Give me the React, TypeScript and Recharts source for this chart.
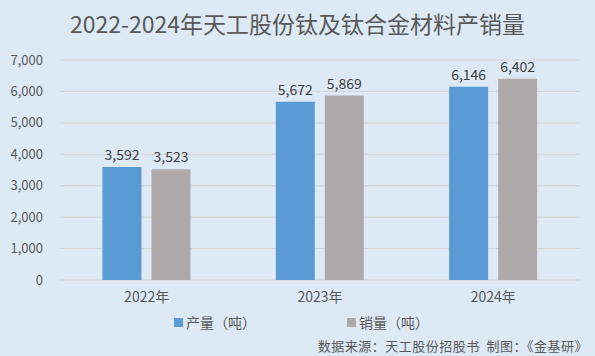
import React from 'react';
import { BarChart, Bar, XAxis, YAxis, CartesianGrid, LabelList } from 'recharts';

const categories = ['2022年', '2023年', '2024年'];
const production = [3592, 5672, 6146];
const sales = [3523, 5869, 6402];
const yTicks = [0, 1000, 2000, 3000, 4000, 5000, 6000, 7000];
const seriesNames = ['产量（吨）', '销量（吨）'];
const title = '2022-2024年天工股份钛及钛合金材料产销量';
const source = '数据来源：天工股份招股书  制图：《金基研》';

const data = categories.map((c, i) => ({ name: c, production: production[i], sales: sales[i] }));

const BLUE = '#5b9bd5';
const GRAY = '#aeaaaa';
const BG = '#dde9f5';
const FONT = '"Noto Sans CJK SC", "Noto Sans", sans-serif';

const fmt = (v: number) => v.toLocaleString('en-US');

export default function App() {
  return (
    <div style={{ position: 'absolute', left: 0, top: 0, width: 595, height: 356, background: BG, fontFamily: FONT }}>
      <div style={{ position: 'absolute', left: 0, top: 6, width: 595, textAlign: 'center', fontSize: 23, color: '#595959', lineHeight: '34px' }}>
        {title}
      </div>
      <BarChart
        width={595}
        height={356}
        data={data}
        margin={{ top: 60, right: 15, bottom: 46, left: 0 }}
        barCategoryGap="24.5%"
        barGap={10}
        style={{ position: 'absolute', left: 0, top: 0 }}
      >
        <CartesianGrid vertical={false} stroke="#d4d4d4" />
        <XAxis
          dataKey="name"
          axisLine={false}
          tickLine={false}
          tickSize={0}
          tickMargin={12}
          height={30}
          tick={{ fill: '#595959', fontSize: 14, fontFamily: FONT }}
        />
        <YAxis
          domain={[0, 7000]}
          ticks={yTicks}
          width={60}
          axisLine={false}
          tickLine={false}
          tickSize={0}
          tickMargin={17}
          tickFormatter={fmt}
          tick={{ fill: '#595959', fontSize: 13, fontFamily: FONT }}
          interval={0}
        />
        <Bar dataKey="production" fill={BLUE} isAnimationActive={false}>
          <LabelList dataKey="production" position="top" offset={7} formatter={(v: any) => fmt(Number(v))} style={{ fill: '#404040', fontSize: 14, fontFamily: FONT }} />
        </Bar>
        <Bar dataKey="sales" fill={GRAY} isAnimationActive={false}>
          <LabelList dataKey="sales" position="top" offset={7} formatter={(v: any) => fmt(Number(v))} style={{ fill: '#404040', fontSize: 14, fontFamily: FONT }} />
        </Bar>
      </BarChart>
      <div style={{ position: 'absolute', left: 174, top: 312, fontSize: 14, color: '#595959', display: 'flex', alignItems: 'center' }}>
        <span style={{ display: 'inline-block', width: 9, height: 9, background: BLUE, marginRight: 3 }} />
        {seriesNames[0]}
      </div>
      <div style={{ position: 'absolute', left: 347, top: 312, fontSize: 14, color: '#595959', display: 'flex', alignItems: 'center' }}>
        <span style={{ display: 'inline-block', width: 9, height: 9, background: GRAY, marginRight: 3 }} />
        {seriesNames[1]}
      </div>
      <div style={{ position: 'absolute', right: 7, top: 336, fontSize: 13, color: '#595959', whiteSpace: 'pre', letterSpacing: 0.5 }}>
        {source}
      </div>
    </div>
  );
}
